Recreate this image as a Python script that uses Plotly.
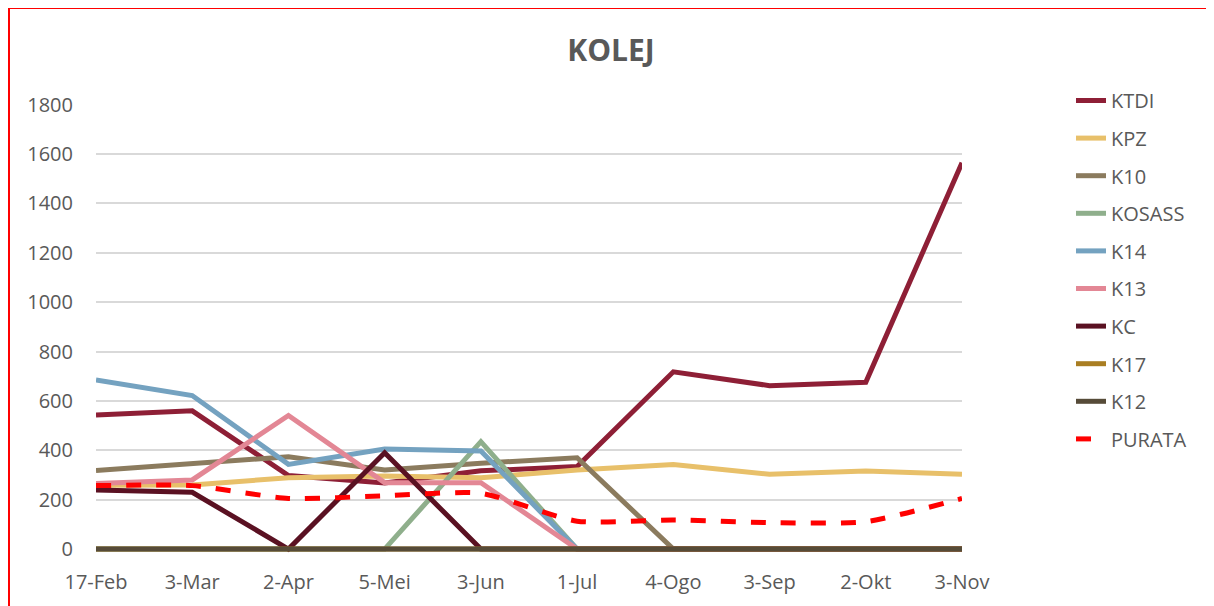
import plotly.graph_objects as go

categories = ["17-Feb", "3-Mar", "2-Apr", "5-Mei", "3-Jun", "1-Jul", "4-Ogo", "3-Sep", "2-Okt", "3-Nov"]

KTDI = [543, 560, 298, 268, 317, 334, 718, 662, 676, 1565]
KPZ = [259, 260, 289, 296, 289, 320, 343, 303, 316, 303]
K10 = [318, 347, 374, 320, 348, 370, 0, 0, 0, 0]
KOSASS = [0, 0, 0, 0, 435, 0, 0, 0, 0, 0]
K14 = [685, 622, 343, 405, 397, 0, 0, 0, 0, 0]
K13 = [266, 280, 541, 269, 269, 0, 0, 0, 0, 0]
KC = [239, 230, 0, 390, 0, 0, 0, 0, 0, 0]
K17 = [0, 0, 0, 0, 0, 0, 0, 0, 0, 0]
K12 = [0, 0, 0, 0, 0, 0, 0, 0, 0, 0]
PURATA = [257, 257, 205, 216, 226, 113, 118, 107, 111, 205]

series = [
    ("KTDI", KTDI, "#8E1F36"),
    ("KPZ", KPZ, "#E8C06A"),
    ("K10", K10, "#8B7B5E"),
    ("KOSASS", KOSASS, "#8FAF8C"),
    ("K14", K14, "#74A2C0"),
    ("K13", K13, "#E38795"),
    ("KC", KC, "#5A1122"),
    ("K17", K17, "#A97E22"),
    ("K12", K12, "#564B38"),
]

FONT = "Open Sans"
GRAY = "#595959"

fig = go.Figure()
for name, vals, col in series:
    fig.add_trace(go.Scatter(
        x=categories, y=vals, name=name, mode="lines",
        line=dict(color=col, width=5),
        legendgroup=name,
    ))
fig.add_trace(go.Scatter(
    x=categories, y=PURATA, name="PURATA", mode="lines",
    line=dict(color="#FF0000", width=5, dash="dash", shape="spline", smoothing=0.6),
    legendgroup="PURATA",
))

# figure is placed at (8, 8) on the page by the body margin
W, H = 1206, 598
L, R, T, B = 88, 252, 96, 52
PW = W - L - R
PH = H - T - B

fig.update_layout(
    width=W, height=H,
    margin=dict(l=L, r=R, t=T, b=B, autoexpand=False),
    paper_bgcolor="white", plot_bgcolor="white",
    font=dict(family=FONT, color=GRAY, size=20),
    title=dict(text="<b>KOLEJ</b>", x=0.5, xref="container", y=1 - 42 / H, yref="container",
               xanchor="center", yanchor="middle",
               font=dict(family=FONT, size=30, color=GRAY)),
    showlegend=True,
    legend=dict(x=(1063 - L) / PW, xanchor="left", y=(H - B - 73) / PH, yanchor="top",
                tracegroupgap=8.6, font=dict(size=20, color=GRAY),
                bgcolor="rgba(0,0,0,0)", maxheight=1000),
    xaxis=dict(type="category", range=[0, 9], showgrid=False, zeroline=False,
               showline=False, ticks="", ticklabelstandoff=14,
               tickfont=dict(size=20, color=GRAY)),
    yaxis=dict(range=[-20, 1803], tickvals=[0, 200, 400, 600, 800, 1000, 1200, 1400, 1600, 1800],
               showgrid=True, gridcolor="#D9D9D9", gridwidth=1.5, zeroline=False,
               showline=False, ticks="", ticklabelstandoff=22,
               tickfont=dict(size=20, color=GRAY)),
    shapes=[dict(type="rect", xref="paper", yref="paper",
                 x0=(1 - L) / PW, x1=(1260 - L) / PW,
                 y0=(H - B - 700) / PH, y1=(H - B - 0) / PH,
                 line=dict(color="#FF0000", width=2), layer="below")],
)

fig.write_html("out.html")
